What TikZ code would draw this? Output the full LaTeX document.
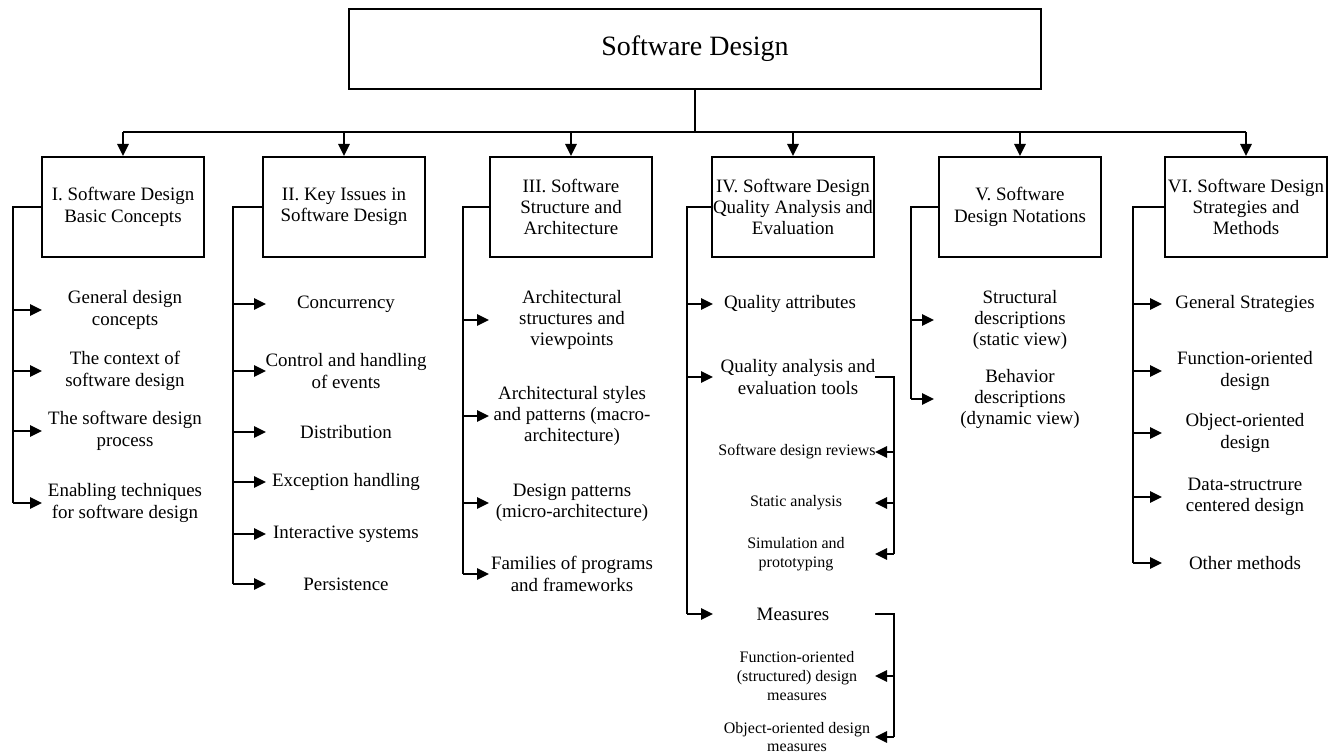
\documentclass[tikz,border=0pt]{standalone}
\usepackage{fontspec}
\setmainfont{Liberation Serif}
\usetikzlibrary{arrows.meta}
\begin{document}
\begin{tikzpicture}[x=0.75pt,y=-0.75pt,
  ln/.style={line width=1.5pt},
  arr/.style={line width=1.5pt,-{Triangle[length=9pt,width=8.5pt]}},
  topbox/.style={draw,line width=1.5pt,minimum width=519pt,minimum height=60pt,font=\fontsize{21}{24}\selectfont},
  catbox/.style={draw,line width=1.5pt,minimum width=122pt,minimum height=75pt,inner sep=0pt,align=center,font=\fontsize{14.2}{16}\selectfont},
  item/.style={align=center,inner sep=0pt,font=\fontsize{14.2}{16}\selectfont},
  subitem/.style={align=center,inner sep=0pt,font=\fontsize{12}{14}\selectfont}]
\useasboundingbox (0,0) rectangle (1336,756);
% top
\node[topbox] (top) at (695,49) {Software Design};
\coordinate (hub) at (695,132);
% categories
\node[catbox] (b1) at (123,207) {I. Software Design\\Basic Concepts};
\node[catbox] (b2) at (344,207) {II. Key Issues in\\Software Design};
\node[catbox] (b3) at (571,207) {III. Software\\Structure and\\Architecture};
\node[catbox] (b4) at (793,207) {IV. Software Design\\Quality Analysis and\\Evaluation};
\node[catbox] (b5) at (1020,207) {V. Software\\Design Notations};
\node[catbox] (b6) at (1246,207) {VI. Software Design\\Strategies and\\Methods};
\draw[line width=1pt] (top.south) -- (hub);
\draw[ln] (b1.north |- hub) -- (b6.north |- hub);
\foreach \b in {b1,b2,b3,b4,b5,b6} \draw[arr] (\b.north |- hub) -- (\b.north);
% column I
\coordinate (bus1) at (13,0); \coordinate (tip1) at (42,0);
\node[item] (c11) at (125,310) {General design\\concepts};
\node[item] (c12) at (125,371) {The context of\\software design};
\node[item] (c13) at (125,431) {The software design\\process};
\node[item] (c14) at (125,503) {Enabling techniques\\for software design};
\draw[ln] (b1.west) -- (bus1 |- b1.west) -- (bus1 |- c14);
\foreach \c in {c11,c12,c13,c14} \draw[arr] (bus1 |- \c) -- (tip1 |- \c);
% column II
\coordinate (bus2) at (233,0); \coordinate (tip2) at (266,0);
\node[item] (c21) at (346,304) {Concurrency};
\node[item] (c22) at (346,371) {Control and handling\\of events};
\node[item] (c23) at (346,432) {Distribution};
\node[item] (c24) at (346,482) {Exception handling};
\node[item] (c25) at (346,534) {Interactive systems};
\node[item] (c26) at (346,584) {Persistence};
\draw[ln] (b2.west) -- (bus2 |- b2.west) -- (bus2 |- c26);
\foreach \c in {c21,c22,c23,c24,c25,c26} \draw[arr] (bus2 |- \c) -- (tip2 |- \c);
% column III
\coordinate (bus3) at (463,0); \coordinate (tip3) at (489,0);
\node[item] (c31) at (572,320) {Architectural\\structures and\\viewpoints};
\node[item] (c32) at (572,416) {Architectural styles\\and patterns (macro-\\architecture)};
\node[item] (c33) at (572,503) {Design patterns\\(micro-architecture)};
\node[item] (c34) at (572,574) {Families of programs\\and frameworks};
\draw[ln] (b3.west) -- (bus3 |- b3.west) -- (bus3 |- c34);
\foreach \c in {c31,c32,c33,c34} \draw[arr] (bus3 |- \c) -- (tip3 |- \c);
% column IV
\coordinate (bus4) at (687,0); \coordinate (tip4) at (713,0);
\node[item] (c41) at (790,304) {Quality attributes};
\node[item] (c42) at (798,377) {Quality analysis and\\evaluation tools};
\node[item] (c43) at (793,614) {Measures};
\draw[ln] (b4.west) -- (bus4 |- b4.west) -- (bus4 |- c43);
\foreach \c in {c41,c42,c43} \draw[arr] (bus4 |- \c) -- (tip4 |- \c);
\coordinate (sbus) at (894,0); \coordinate (stip) at (875,0);
\node[subitem] (s1) at (797,452) {Software design reviews};
\node[subitem] (s2) at (796,503) {Static analysis};
\node[subitem] (s3) at (796,554) {Simulation and\\prototyping};
\draw[ln] (stip |- c42) -- (sbus |- c42) -- (sbus |- s3);
\foreach \c in {s1,s2,s3} \draw[arr] (sbus |- \c) -- (stip |- \c);
\node[subitem] (m1) at (797,676) {Function-oriented\\(structured) design\\measures};
\node[subitem] (m2) at (797,737) {Object-oriented design\\measures};
\draw[ln] (stip |- c43) -- (sbus |- c43) -- (sbus |- m2);
\foreach \c in {m1,m2} \draw[arr] (sbus |- \c) -- (stip |- \c);
% column V
\coordinate (bus5) at (911,0); \coordinate (tip5) at (934,0);
\node[item] (c51) at (1020,320) {Structural\\descriptions\\(static view)};
\node[item] (c52) at (1020,399) {Behavior\\descriptions\\(dynamic view)};
\draw[ln] (b5.west) -- (bus5 |- b5.west) -- (bus5 |- c52);
\foreach \c in {c51,c52} \draw[arr] (bus5 |- \c) -- (tip5 |- \c);
% column VI
\coordinate (bus6) at (1133,0); \coordinate (tip6) at (1162,0);
\node[item] (c61) at (1245,304) {General Strategies};
\node[item] (c62) at (1245,371) {Function-oriented\\design};
\node[item] (c63) at (1245,433) {Object-oriented\\design};
\node[item] (c64) at (1245,497) {Data-structrure\\centered design};
\node[item] (c65) at (1245,563) {Other methods};
\draw[ln] (b6.west) -- (bus6 |- b6.west) -- (bus6 |- c65);
\foreach \c in {c61,c62,c63,c64,c65} \draw[arr] (bus6 |- \c) -- (tip6 |- \c);
\end{tikzpicture}
\end{document}
